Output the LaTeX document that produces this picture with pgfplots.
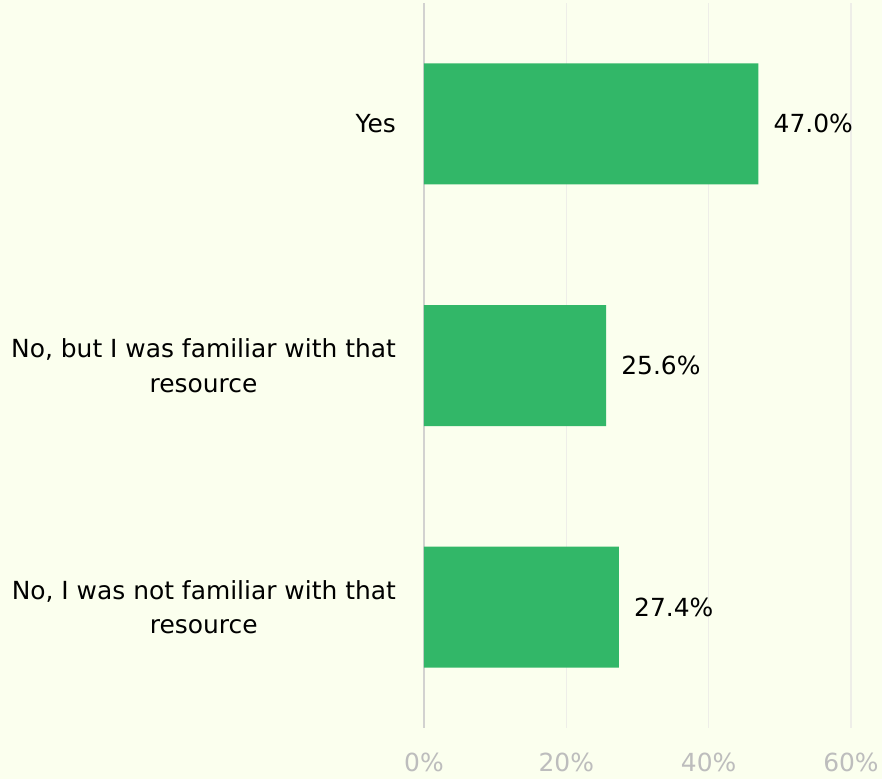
\documentclass[border=0pt]{standalone}
\usepackage{pgfplots}
\pgfplotsset{compat=1.18}
\usepackage{fontspec}
\setmainfont{DejaVu Sans}
\definecolor{bg}{HTML}{FBFFEE}
\definecolor{barg}{HTML}{32B768}
\definecolor{gridc}{HTML}{EEEEE8}
\definecolor{axc}{HTML}{D2D2D0}
\definecolor{tickc}{HTML}{BDBDBD}
\begin{document}
\begin{tikzpicture}
\fill[bg] (-424bp,-51bp) rectangle (458bp,728bp);
\begin{axis}[
  at={(0,0)}, anchor=south west,
  scale only axis, width=427bp, height=725bp,
  xmin=0, xmax=60, ymin=-0.5, ymax=2.5, y dir=reverse,
  axis x line*=bottom, axis y line*=left,
  x axis line style={draw=none},
  y axis line style={draw=axc, line width=1.6bp},
  xbar, bar width=121bp,
  major tick length=0pt,
  /pgf/number format/assume math mode=true,
  xtick={0,20,40,60},
  xticklabels={0\%,20\%,40\%,60\%},
  xmajorgrids, grid style={draw=gridc, line width=1.6bp},
  ytick={0,1,2},
  yticklabels={Yes,{No, but I was familiar with that\\resource},{No, I was not familiar with that\\resource}},
  yticklabel style={align=center, inner sep=0pt, anchor=east, xshift=-28bp, font=\fontsize{25}{35}\selectfont, text=black},
  xticklabel style={inner sep=0pt, anchor=north, yshift=-25bp, font=\fontsize{25}{30}\selectfont, text=tickc},
  nodes near coords={\pgfmathprintnumber[fixed,fixed zerofill,precision=1,assume math mode=true]{\pgfplotspointmeta}\%},
  nodes near coords style={anchor=west, inner sep=0pt, xshift=15bp, font=\fontsize{25}{30}\selectfont, text=black},
]
\addplot[fill=barg, draw=none] coordinates {(47.0,0) (25.6,1) (27.4,2)};
\end{axis}
\pgfresetboundingbox
\path[use as bounding box] (-424bp,-51bp) rectangle (458bp,728bp);
\end{tikzpicture}
\end{document}
